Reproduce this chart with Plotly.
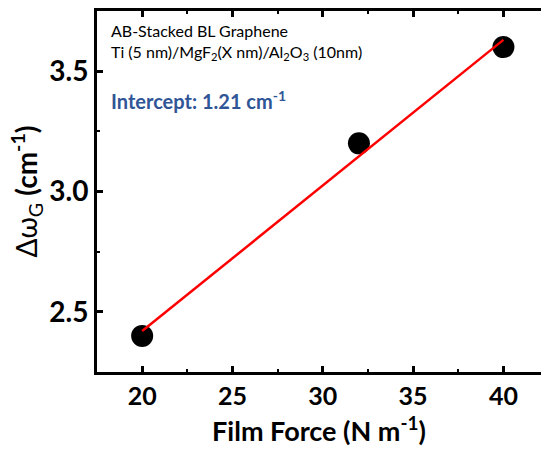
import plotly.graph_objects as go

film_force = [20, 32, 40]
delta_omega = [2.4, 3.2, 3.6]
fit_x = [20, 40]
fit_y = [2.42, 3.63]
x_ticks = [20, 25, 30, 35, 40]
y_ticks = [2.5, 3.0, 3.5]

FONT = "Lato"

fig = go.Figure()
fig.add_trace(go.Scatter(x=film_force, y=delta_omega, mode="markers",
                         marker=dict(color="black", size=22), showlegend=False))
fig.add_trace(go.Scatter(x=fit_x, y=fit_y, mode="lines",
                         line=dict(color="red", width=2.5), showlegend=False))

axis_common = dict(showline=True, linecolor="black", linewidth=3, ticks="inside",
                   tickwidth=3, ticklen=6, tickcolor="black", showgrid=False, zeroline=False,
                   automargin=False)

fig.update_xaxes(range=[17.5, 42.08], tickvals=x_ticks, mirror="ticks",
                 tickfont=dict(family=FONT, size=25, color="black", weight="bold"),
                 minor=dict(dtick=2.5, tick0=0, ticks="inside", ticklen=3, tickwidth=2, tickcolor="black"),
                 title=dict(text="<b>Film Force (N m<sup>-1</sup>)</b>", font=dict(family=FONT, size=27, color="black"), standoff=14),
                 **axis_common)
fig.update_yaxes(range=[2.25, 3.75], tickvals=y_ticks, tickformat=".1f",
                 tickfont=dict(family=FONT, size=28, color="black", weight="bold"),
                 minor=dict(dtick=0.25, tick0=0, ticks="inside", ticklen=3, tickwidth=2, tickcolor="black"),
                 title=dict(text="Δω<sub>G</sub> <b>(cm<sup>-1</sup>)</b>", font=dict(family=FONT, size=28, color="black"), standoff=4),
                 **axis_common)

fig.add_annotation(xref="paper", yref="paper", x=0.027, y=0.947, xanchor="left", yanchor="middle",
                   text="AB-Stacked BL Graphene",
                   showarrow=False, align="left", font=dict(family=FONT, size=16, color="black"))
fig.add_annotation(xref="paper", yref="paper", x=0.027, y=0.886, xanchor="left", yanchor="middle",
                   text="Ti (5 nm)/MgF<sub>2</sub>(X nm)/Al<sub>2</sub>O<sub>3</sub> (10nm)",
                   showarrow=False, align="left", font=dict(family=FONT, size=16, color="black"))
fig.add_annotation(xref="paper", yref="paper", x=0.027, y=0.753, xanchor="left", yanchor="middle",
                   text="<b>Intercept: 1.21 cm<sup>-1</sup></b>", showarrow=False,
                   font=dict(family=FONT, size=20, color="#2F5597"))

fig.update_layout(width=541, height=450, margin=dict(l=97, r=0, t=11, b=78),
                  plot_bgcolor="white", paper_bgcolor="white")
fig.write_html("out.html", config={"displayModeBar": False},
               post_script="document.body.style.margin='0';document.body.style.overflow='hidden';")
